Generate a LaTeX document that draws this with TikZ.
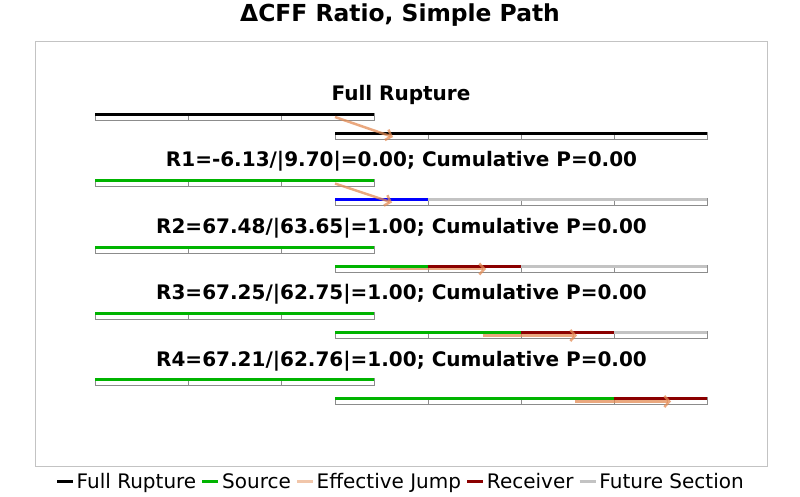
\documentclass[tikz,border=0pt]{standalone}
\usepackage{fontspec}
\setmainfont{DejaVu Sans}
\usetikzlibrary{arrows.meta,calc}
\definecolor{srcgreen}{RGB}{0,180,0}
\definecolor{rcvred}{RGB}{139,0,0}
\definecolor{futgray}{RGB}{195,195,195}
\definecolor{jumpor}{RGB}{228,140,85}
\definecolor{framegray}{RGB}{195,195,195}
\definecolor{outl}{RGB}{140,140,140}
\definecolor{srcblue}{RGB}{0,0,255}
\tikzset{
  segbox/.style={draw=outl, line width=1pt, fill=white},
  topline/.style={line width=3pt},
  jump/.style={draw=jumpor, draw opacity=0.75, line width=2.5pt, -{Straight Barb[length=5pt,width=11pt]}},
  rowlabel/.style={font=\bfseries\fontsize{20}{24}\selectfont, inner sep=0pt, anchor=base},
  titletext/.style={font=\bfseries\fontsize{23.4}{28}\selectfont, inner sep=0pt, anchor=base},
  legtext/.style={font=\fontsize{20}{24}\selectfont, inner sep=0pt, anchor=base west},
  legline/.style={line width=3pt},
}
\newcommand{\drawfault}[3]{%
  \foreach \c [count=\i from 0] in {#3} {\draw[segbox] ({#1+93*\i}, #2) rectangle ({#1+93*\i+93}, {#2+7});}
  \foreach \c [count=\i from 0] in {#3} {\draw[topline, \c] ({#1+93*\i}, {#2+1}) -- ({#1+93*\i+93}, {#2+1});}
}
\begin{document}
\begin{tikzpicture}[x=1pt,y=-1pt]
\useasboundingbox (0,0) rectangle (800,496);
\fill[white] (0,0) rectangle (800,496);
\node[titletext] (title) at (400,21) {ΔCFF Ratio, Simple Path};
\draw[framegray, line width=1pt] (35.5,41.5) rectangle (767.5,466);
% faults
\drawfault{95}{113.3}{black,black,black}
\drawfault{335}{132.3}{black,black,black,black}
\drawfault{95}{179.7}{srcgreen,srcgreen,srcgreen}
\drawfault{335}{198.7}{srcblue,futgray,futgray,futgray}
\drawfault{95}{246.1}{srcgreen,srcgreen,srcgreen}
\drawfault{335}{265.1}{srcgreen,rcvred,futgray,futgray}
\drawfault{95}{312.5}{srcgreen,srcgreen,srcgreen}
\drawfault{335}{331.5}{srcgreen,srcgreen,rcvred,futgray}
\drawfault{95}{378.9}{srcgreen,srcgreen,srcgreen}
\drawfault{335}{397.9}{srcgreen,srcgreen,srcgreen,rcvred}
% labels
\node[rowlabel] (l0) at (401,100.5) {Full Rupture};
\node[rowlabel] (l1) at (401.5,166.9) {R1=-6.13/|9.70|=0.00; Cumulative P=0.00};
\node[rowlabel] (l2) at (401.5,233.3) {R2=67.48/|63.65|=1.00; Cumulative P=0.00};
\node[rowlabel] (l3) at (401.5,299.7) {R3=67.25/|62.75|=1.00; Cumulative P=0.00};
\node[rowlabel] (l4) at (401.5,366.1) {R4=67.21/|62.76|=1.00; Cumulative P=0.00};
% jumps
\coordinate (j0a) at (335,117); \coordinate (j0b) at (393,137);
\coordinate (j1a) at (335,183.5); \coordinate (j1b) at (392,202.5);
\coordinate (j2a) at (390,269); \coordinate (j2b) at (486,269);
\coordinate (j3a) at (483,335.5); \coordinate (j3b) at (577,335.5);
\coordinate (j4a) at (575,401.5); \coordinate (j4b) at (671,401.5);
\draw[jump] (j0a) -- (j0b);
\draw[jump] (j1a) -- (j1b);
\draw[jump] (j2a) -- (j2b);
\draw[jump] (j3a) -- (j3b);
\draw[jump] (j4a) -- (j4b);
% legend
\coordinate (s1) at (57,481);
\draw[legline, black] (s1) -- ++(16,0);
\node[legtext] (t1) at ($(s1)+(19.5,7)$) {Full Rupture};
\coordinate (s2) at ($(t1.base east)+(6,-7)$);
\draw[legline, srcgreen] (s2) -- ++(16,0);
\node[legtext] (t2) at ($(s2)+(19.5,7)$) {Source};
\coordinate (s3) at ($(t2.base east)+(6,-7)$);
\draw[legline, jumpor!50] (s3) -- ++(16,0);
\node[legtext] (t3) at ($(s3)+(19.5,7)$) {Effective Jump};
\coordinate (s4) at ($(t3.base east)+(6,-7)$);
\draw[legline, rcvred] (s4) -- ++(16,0);
\node[legtext] (t4) at ($(s4)+(19.5,7)$) {Receiver};
\coordinate (s5) at ($(t4.base east)+(6,-7)$);
\draw[legline, futgray] (s5) -- ++(16,0);
\node[legtext] (t5) at ($(s5)+(19.5,7)$) {Future Section};
\end{tikzpicture}
\end{document}
